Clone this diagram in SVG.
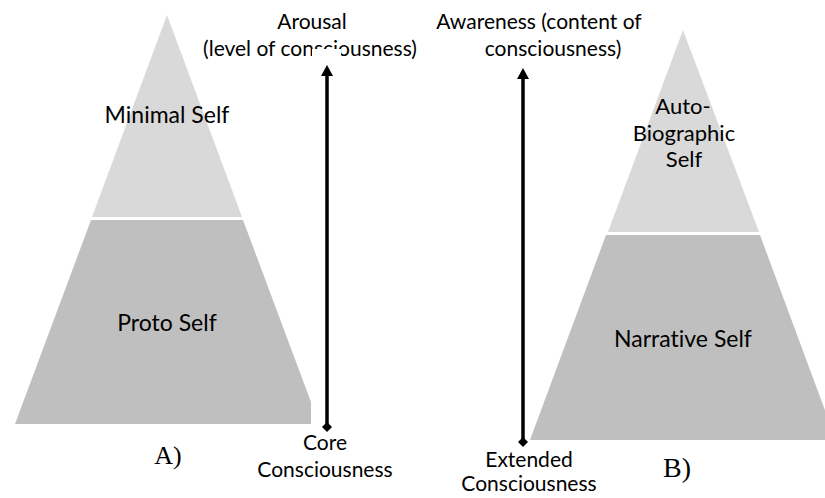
<svg xmlns="http://www.w3.org/2000/svg" width="825" height="498" viewBox="0 0 825 498">
<style>
.t{font-family:Lato,"Open Sans",sans-serif;font-size:21px;fill:#000;text-anchor:middle;font-variant-ligatures:none}
.in{font-size:23px}
.ab{font-size:22px}
.lab{font-family:"Liberation Serif","Times New Roman",serif;fill:#000;text-anchor:middle}
.top{fill:#d9d9d9}
.bot{fill:#bfbfbf}
.ax{stroke:#000;stroke-width:3.5;fill:none}
.hd{fill:#000}
</style>
<rect width="825" height="498" fill="#fff"/>
<g id="pyramidA">
<g id="minimal-self">
<polygon class="top" points="167,15 92,217 242,217"/>
<text class="t in" x="167" y="123">Minimal Self</text>
</g>
<g id="proto-self">
<polygon class="bot" points="91,220 243,220 311,402 311,424 15,424"/>
<text class="t in" x="167" y="331">Proto Self</text>
</g>
</g>
<g id="pyramidB">
<g id="autobiographic-self">
<polygon class="top" points="683,30 608,232 759,232"/>
<text class="t ab" x="683" y="114">Auto-</text>
<text class="t ab" x="684" y="140.5">Biographic</text>
<text class="t ab" x="684" y="167">Self</text>
</g>
<g id="narrative-self">
<polygon class="bot" points="606,235 760,235 836,440 530,440"/>
<text class="t in" x="683" y="347">Narrative Self</text>
</g>
</g>
<g id="connectors">
<g id="arrowA">
<line class="ax" x1="327" y1="427" x2="327" y2="74"/>
<polygon class="hd" points="327,65 333,76 321,76"/>
<polygon class="hd" points="327,422 332,427 327,432 322,427"/>
</g>
<g id="arrowB">
<line class="ax" x1="523" y1="442" x2="523" y2="77"/>
<polygon class="hd" points="523,68 529,79 517,79"/>
<polygon class="hd" points="523,437 528,442 523,447 518,442"/>
</g>
</g>
<g id="arousal">
<text class="t" x="312" y="29">Arousal</text>
<text class="t" x="310" y="56">(level of consciousness)</text>
<rect x="312" y="49" width="29" height="10" fill="#fff"/>
</g>
<g id="awareness">
<text class="t" x="539" y="29">Awareness (content of</text>
<text class="t" x="553" y="56">consciousness)</text>
</g>
<g id="core">
<text class="t" x="325" y="450">Core</text>
<text class="t" x="325" y="477">Consciousness</text>
</g>
<g id="extended">
<text class="t" x="529" y="467">Extended</text>
<text class="t" x="529" y="491">Consciousness</text>
</g>
<text class="lab" x="168" y="464" font-size="26">A)</text>
<text class="lab" x="677" y="477" font-size="28">B)</text>
</svg>
